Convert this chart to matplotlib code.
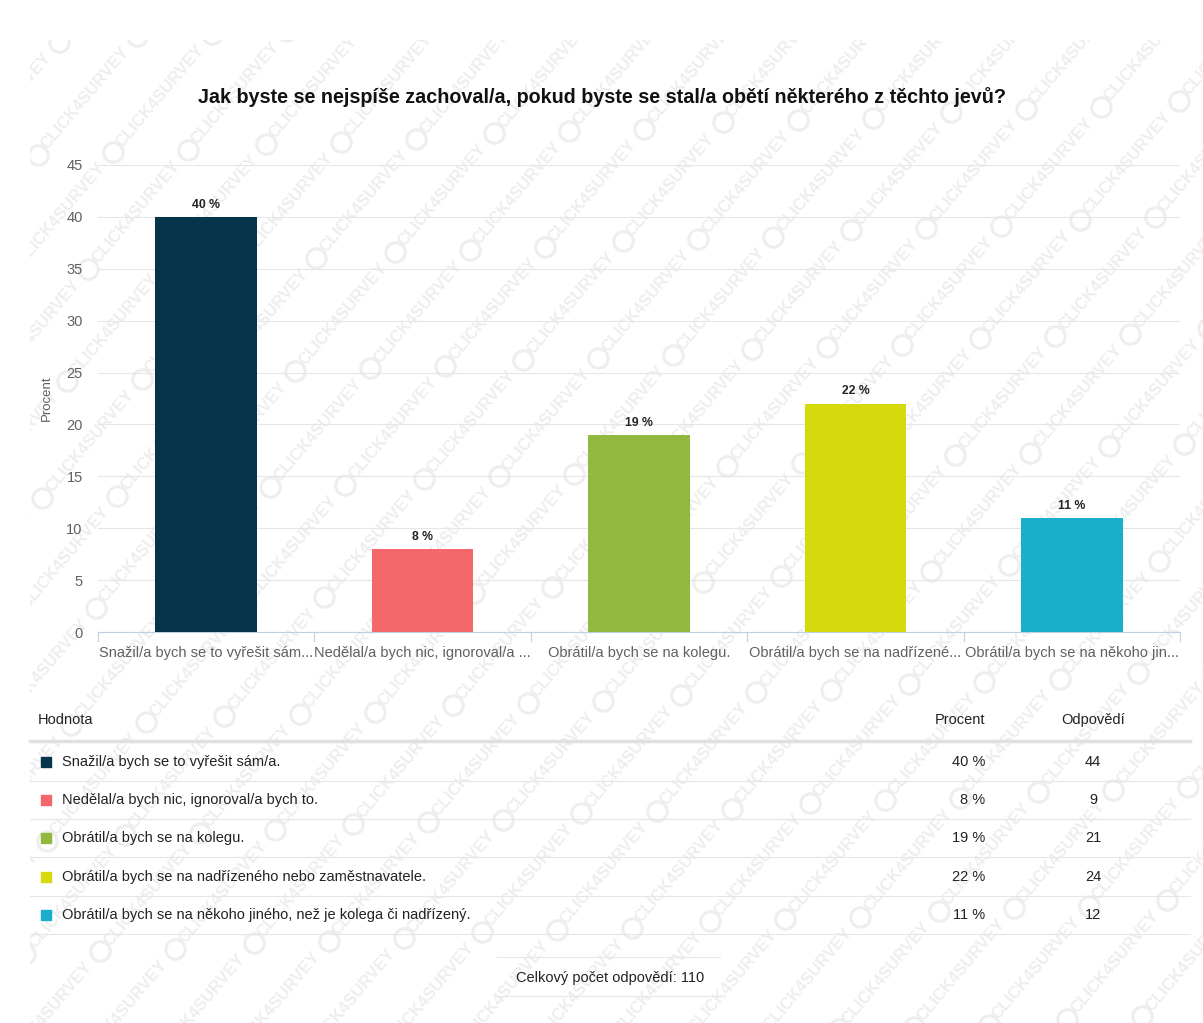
import numpy as np
import matplotlib.pyplot as plt
from matplotlib.patches import Rectangle
from matplotlib.lines import Line2D

plt.rcParams["font.family"] = ["Liberation Sans", "DejaVu Sans"]

TITLE = "Jak byste se nejspíše zachoval/a, pokud byste se stal/a obětí některého z těchto jevů?"
short_labels = [
    "Snažil/a bych se to vyřešit sám...",
    "Nedělal/a bych nic, ignoroval/a ...",
    "Obrátil/a bych se na kolegu.",
    "Obrátil/a bych se na nadřízené...",
    "Obrátil/a bych se na někoho jin...",
]
full_labels = [
    "Snažil/a bych se to vyřešit sám/a.",
    "Nedělal/a bych nic, ignoroval/a bych to.",
    "Obrátil/a bych se na kolegu.",
    "Obrátil/a bych se na nadřízeného nebo zaměstnavatele.",
    "Obrátil/a bych se na někoho jiného, než je kolega či nadřízený.",
]
percent = [40, 8, 19, 22, 11]
answers = [44, 9, 21, 24, 12]
total = 110
colors = ["#06344b", "#f4676a", "#92b840", "#d6d90c", "#1aadcc"]

W, H = 1203, 1023
fig = plt.figure(figsize=(W / 100, H / 100), dpi=100)
fig.patch.set_facecolor("white")


def fx(px):
    return px / W


def fy(py):
    return 1 - py / H


# background watermark, pixel coordinates, top-left origin
bg = fig.add_axes([fx(30), fy(1023), fx(1203) - fx(30), fy(40) - fy(1023)], zorder=-5)
bg.set_xlim(30, 1203)
bg.set_ylim(1023, 40)
bg.axis("off")
ang = np.deg2rad(50)
along = np.array([np.cos(ang), -np.sin(ang)])
perp = np.array([np.sin(ang), np.cos(ang)])
step, gap = 155, 56
wm = "#eeeeee"
for j in range(-30, 45):
    for i in range(-14, 14):
        cx, cy = np.array([600, 530]) + along * (i * step + (j % 3) * 50) + perp * (j * gap)
        if -80 < cx < W + 80 and -80 < cy < H + 80:
            bg.text(cx, cy, "CLICK4SURVEY", rotation=50, rotation_mode="anchor",
                    ha="center", va="center", fontsize=12, fontweight="bold",
                    color=wm, clip_on=True)
            ox, oy = np.array([cx, cy]) - along * 74
            bg.plot(ox, oy, "o", ms=14, mfc="none", mec=wm, mew=2.2, clip_on=True)

# chart
ax = fig.add_axes([fx(98), fy(632), fx(1180) - fx(98), fy(165) - fy(632)])
ax.set_facecolor("none")
xs = range(len(percent))
ax.bar(xs, percent, width=0.47, color=colors, zorder=3)
for x, v in zip(xs, percent):
    ax.text(x, v + 0.6, f"{v} %", ha="center", va="bottom", fontsize=8.8,
            fontweight="bold", color="#222222", zorder=4)

ax.set_xlim(-0.5, len(percent) - 0.5)
ax.set_ylim(0, 45)
ax.set_yticks(range(0, 46, 5))
ax.yaxis.grid(True, color="#e6e6e6", linewidth=0.8, zorder=0)
ax.set_xticks(list(xs))
ax.set_xticklabels(short_labels, fontsize=10.5, color="#606060")
ax.tick_params(axis="x", length=0, pad=10)
ax.tick_params(axis="y", length=0, pad=11, labelsize=10.5, labelcolor="#606060")
for s in ["top", "right", "left"]:
    ax.spines[s].set_visible(False)
ax.spines["bottom"].set_color("#c0d0e0")
ax.set_ylabel("Procent", fontsize=9.5, color="#606060", labelpad=10)
# category boundary ticks below the axis line
for b in [i - 0.5 for i in range(len(percent) + 1)]:
    ax.plot([b, b], [0, -0.9], color="#c0d0e0", linewidth=0.8, clip_on=False)

fig.text(fx(602), fy(97), TITLE, ha="center", va="center", fontsize=14.2,
         fontweight="bold", color="#111111")

# summary table
fs = 10.5
fig.text(fx(38), fy(720), "Hodnota", ha="left", va="center", fontsize=fs, color="#222222")
fig.text(fx(960), fy(720), "Procent", ha="center", va="center", fontsize=fs, color="#222222")
fig.text(fx(1093), fy(720), "Odpovědí", ha="center", va="center", fontsize=fs, color="#222222")
fig.add_artist(Line2D([fx(30), fx(1190)], [fy(741), fy(741)], color="#e0e0e0", linewidth=2.5))

row_y = [762, 800, 838, 877, 915]
for i, y in enumerate(row_y):
    fig.add_artist(Rectangle((fx(41), fy(y + 5)), fx(10), fy(y - 5) - fy(y + 5),
                             color=colors[i], transform=fig.transFigure))
    fig.text(fx(62), fy(y), full_labels[i], ha="left", va="center", fontsize=fs, color="#222222")
    fig.text(fx(985), fy(y), f"{percent[i]} %", ha="right", va="center", fontsize=fs, color="#222222")
    fig.text(fx(1093), fy(y), str(answers[i]), ha="center", va="center", fontsize=fs, color="#222222")
    fig.add_artist(Line2D([fx(30), fx(1190)], [fy(y + 19), fy(y + 19)], color="#e6e6e6", linewidth=0.8))

fig.add_artist(Line2D([fx(497), fx(720)], [fy(957), fy(957)], color="#e6e6e6", linewidth=0.8))
fig.add_artist(Line2D([fx(497), fx(720)], [fy(996), fy(996)], color="#e6e6e6", linewidth=0.8))
fig.text(fx(610), fy(978), f"Celkový počet odpovědí: {total}", ha="center", va="center",
         fontsize=fs, color="#222222")

fig.savefig("out.png", dpi=100)
